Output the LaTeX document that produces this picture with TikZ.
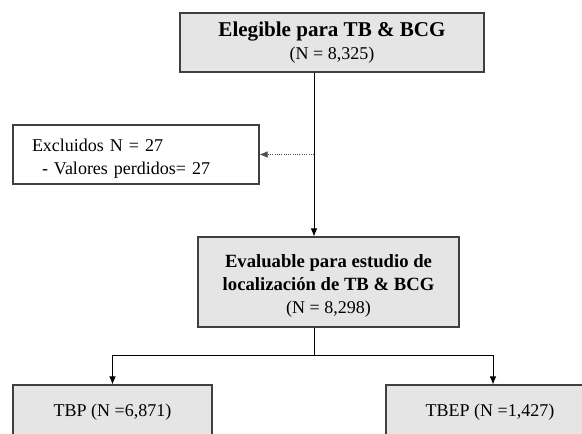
\documentclass[tikz,border=0pt]{standalone}
\usepackage{fontspec}
\setmainfont{Liberation Serif}
\usepackage{tikz}
\usetikzlibrary{arrows.meta,calc,positioning}

\begin{document}
\begin{tikzpicture}[x=0.75pt,y=-0.75pt,
  every node/.style={font=\fontsize{13.5}{17.25}\selectfont},
  box/.style={draw=black!75,line width=0.8pt,fill=black!10,align=center,inner sep=0pt},
  whitebox/.style={draw=black!75,line width=0.8pt,fill=white,align=left,inner sep=0pt},
  arr/.style={draw=black,line width=0.7pt,-{Latex[length=6pt,width=5pt]}},
  dotarr/.style={draw=black!70,line width=0.7pt,densely dotted,-{Latex[length=6pt,width=5pt]}}]
\clip (0,0) rectangle (582,434);
\coordinate (spine) at (314,0);
\coordinate (fork) at (314,355);
\node[box,minimum width=228pt,minimum height=44.25pt] (elig) at (332,42.5) {{\fontsize{15.8}{17.25}\selectfont\textbf{Elegible para TB \& BCG}}\\(N = 8,325)};
\node[whitebox,minimum width=184.5pt,minimum height=44.25pt,text width=156pt] (excl) at (136,154.5) {\rule{0pt}{16pt}Excluidos N = 27\\\hspace*{7.5pt}- Valores perdidos= 27};
\node[box,minimum width=195.75pt,minimum height=67.5pt] (evalb) at (328.5,282) {\rule{0pt}{15pt}{\fontsize{14}{17.25}\selectfont\textbf{Evaluable para estudio de}}\\{\fontsize{14}{17.25}\selectfont\textbf{localización de TB \& BCG}}\\(N = 8,298)};
\node[box,minimum width=149.25pt,minimum height=41.25pt] (tbp) at (112.5,412.5) {TBP (N =6,871)};
\node[box,minimum width=156pt,minimum height=41.25pt] (tbep) at (490,412.5) {TBEP (N =1,427)};
\draw[arr] (elig.south -| spine) -- (evalb.north -| spine);
\draw[dotarr] (spine |- excl.east) -- (excl.east);
\draw[line width=0.7pt] (evalb.south -| spine) -- (fork);
\draw[arr] (fork) -| (tbp.north);
\draw[arr] (fork) -| ([xshift=2.25pt]tbep.north);
\end{tikzpicture}
\end{document}
